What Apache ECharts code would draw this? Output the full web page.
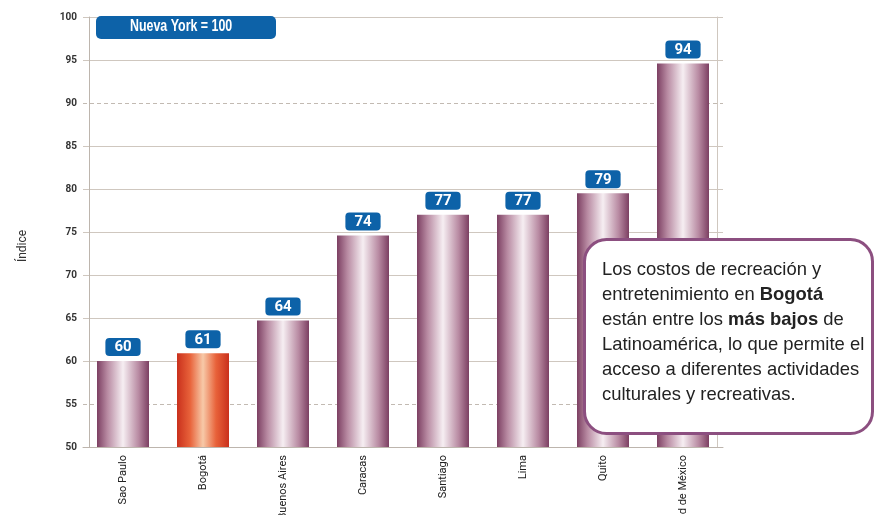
<!DOCTYPE html>
<html>
<head>
<meta charset="utf-8">
<script src="https://cdn.jsdelivr.net/npm/echarts@6/dist/echarts.min.js"></script>
<style>
  html, body { margin: 0; padding: 0; background: #fff; }
  #main { width: 874px; height: 515px; }
</style>
</head>
<body>
<div id="main"></div>
<script>
const cities = ["Sao Paulo", "Bogotá", "Buenos Aires", "Caracas", "Santiago", "Lima", "Quito", "Ciudad de México"];
const indexValues = [60, 60.9, 64.7, 74.6, 77, 77, 79.5, 94.6];
const indexLabels = [60, 61, 64, 74, 77, 77, 79, 94];
const highlightCity = "Bogotá";

const SANS = "'Liberation Sans', Arial, sans-serif";
const NARROW = "'Liberation Sans Narrow', 'Arial Narrow', 'Roboto', sans-serif";

function barGradient(edge, mid) {
  return new echarts.graphic.LinearGradient(0, 0, 1, 0, [
    { offset: 0, color: edge },
    { offset: 0.2, color: mid },
    { offset: 0.5, color: "#f6eef2" },
    { offset: 0.8, color: mid },
    { offset: 1, color: edge },
  ]);
}

const purpleBar = barGradient("#7c3f62", "#b88aa2");
const redBar = new echarts.graphic.LinearGradient(0, 0, 1, 0, [
  { offset: 0, color: "#c9301c" },
  { offset: 0.25, color: "#e8623a" },
  { offset: 0.5, color: "#f7c9a8" },
  { offset: 0.75, color: "#e8623a" },
  { offset: 1, color: "#c9301c" },
]);

const gridColor = "#cfc7bf";
// ticks 50..100; 55 and 90 are drawn dashed with markLine instead
const splitColors = [gridColor, "rgba(0,0,0,0)", gridColor, gridColor, gridColor, gridColor, gridColor, gridColor, "rgba(0,0,0,0)", gridColor, gridColor];

const chart = echarts.init(document.getElementById("main"), null, { renderer: "canvas" });

const option = {
  animation: false,
  grid: { left: 83, right: 151, top: 17, bottom: 68, outerBoundsMode: "none", containLabel: false },
  xAxis: {
    type: "category",
    data: cities,
    axisLine: { lineStyle: { color: "#bdb5ad", width: 1 } },
    axisTick: { show: false },
    axisLabel: {
      rotate: 90,
      interval: 0,
      margin: 8,
      fontFamily: NARROW,
      fontSize: 11,
      color: "#222",
    },
  },
  yAxis: [
    {
      type: "value",
      min: 50,
      max: 100,
      interval: 5,
      offset: -6,
      name: "Índice",
      nameLocation: "middle",
      nameGap: 60,
      nameRotate: 90,
      nameTextStyle: { fontFamily: NARROW, fontSize: 12, color: "#333", padding: [0, 28, 0, 0] },
      axisLine: { show: true, lineStyle: { color: "#bdb5ad" } },
      axisTick: { show: false },
      axisLabel: { margin: 12, fontFamily: NARROW, fontSize: 10, fontWeight: "bold", color: "#333" },
      splitLine: { show: true, lineStyle: { color: splitColors, width: 1.2 } },
    },
    {
      type: "value",
      min: 50,
      max: 100,
      interval: 5,
      position: "right",
      offset: -6,
      axisLine: { show: true, lineStyle: { color: "#cfc7bf" } },
      axisTick: { show: false },
      axisLabel: { show: false },
      splitLine: { show: false },
    },
  ],
  series: [
    {
      type: "bar",
      barWidth: 52,
      data: indexValues.map((v, i) => ({
        value: v,
        itemStyle: { color: cities[i] === highlightCity ? redBar : purpleBar },
      })),
      label: {
        show: true,
        position: "top",
        distance: 5,
        formatter: (p) => String(indexLabels[p.dataIndex]),
        backgroundColor: "#0d62a8",
        borderRadius: 4,
        padding: [2, 9, 1, 9],
        color: "#fff",
        fontFamily: NARROW,
        fontSize: 15,
        fontWeight: "bold",
      },
      markLine: {
        silent: true,
        symbol: "none",
        label: { show: false },
        lineStyle: { color: "#c2bab2", type: [4, 3], width: 1.2 },
        data: [{ yAxis: 55 }, { yAxis: 90 }],
        z: 0,
      },
      z: 3,
    },
  ],
  graphic: [
    {
      type: "rect",
      left: 96,
      top: 16,
      shape: { width: 180, height: 23, r: 5 },
      style: { fill: "#0d62a8" },
      z: 10,
    },
    {
      type: "text",
      x: 130,
      y: 18,
      scaleX: 0.73,
      style: { text: "Nueva York = 100", fill: "#fff", font: "bold 17px " + SANS },
      z: 11,
    },
    {
      type: "rect",
      left: 583,
      top: 238,
      shape: { width: 288, height: 194, r: 22 },
      style: { fill: "#fff", stroke: "#8c4f80", lineWidth: 3 },
      z: 20,
    },
    {
      type: "text",
      x: 602,
      y: 257,
      scaleX: 0.97,
      style: {
        text: "Los costos de recreación y\nentretenimiento en {b|Bogotá}\nestán entre los {b|más bajos} de\nLatinoamérica, lo que permite el\nacceso a diferentes actividades\nculturales y recreativas.",
        fill: "#222",
        font: "19px " + SANS,
        lineHeight: 25,
        rich: {
          b: { fontWeight: "bold", fontSize: 19, fontFamily: SANS, lineHeight: 25, fill: "#222" },
        },
      },
      z: 21,
    },
  ],
};

chart.setOption(option);
</script>
</body>
</html>
